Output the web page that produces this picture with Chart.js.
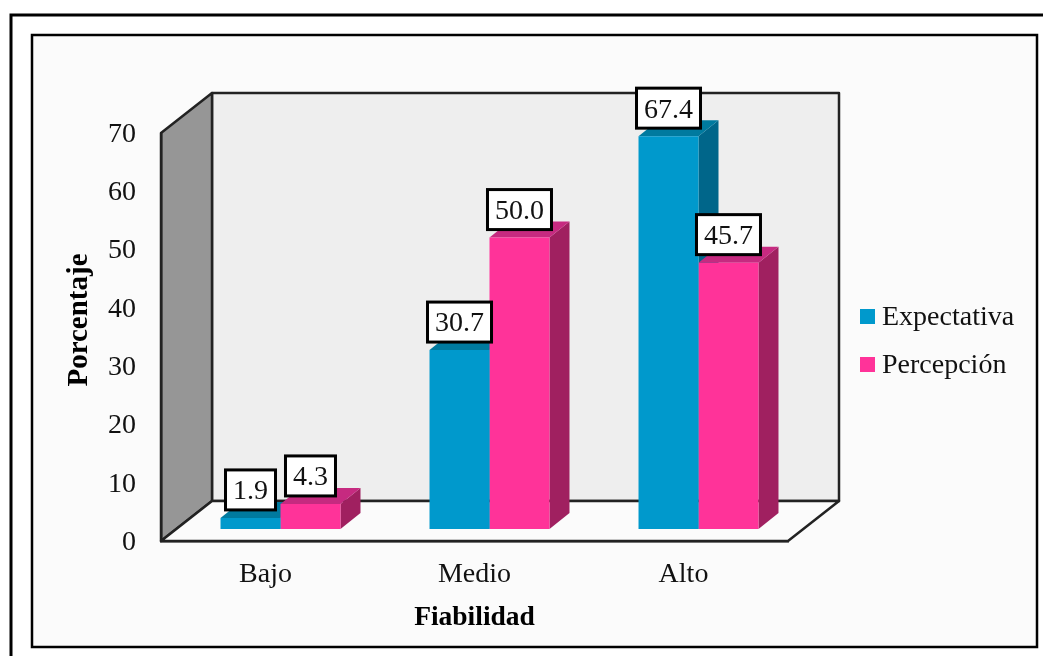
<!DOCTYPE html>
<html lang="es">
<head>
<meta charset="utf-8">
<title>Fiabilidad</title>
<style>
  html, body { margin: 0; padding: 0; background: #fff; }
  canvas { display: block; }
</style>
<script src="https://cdn.jsdelivr.net/npm/chart.js@4"></script>
</head>
<body>
<canvas id="grafico" width="1043" height="656"></canvas>
<script>
const categorias   = ['Bajo', 'Medio', 'Alto'];
const expectativa  = [1.9, 30.7, 67.4];
const percepcion   = [4.3, 50.0, 45.7];
const tickEje      = [0, 10, 20, 30, 40, 50, 60, 70];

const FUENTE = '"Liberation Serif", "Times New Roman", serif';

// Caja 3D: fondo de la pared y desplazamiento de las barras dentro del suelo
const FONDO  = { x: 51, y: 40 };
const BARRA  = { x: 15, y: -12 };
const CUERPO = { x: 20, y: 16 };

const caras = [
  { frente: '#0099CC', tapa: '#007A9F', lado: '#00668A' },
  { frente: '#FF3399', tapa: '#C62A80', lado: '#A02060' }
];

function poligono(ctx, puntos, relleno, borde) {
  ctx.beginPath();
  puntos.forEach(([x, y], i) => i ? ctx.lineTo(x, y) : ctx.moveTo(x, y));
  ctx.closePath();
  if (relleno) { ctx.fillStyle = relleno; ctx.fill(); }
  if (borde) { ctx.strokeStyle = borde; ctx.lineWidth = 2.5; ctx.lineJoin = 'round'; ctx.stroke(); }
}

// ── Marcos y paredes ─────
const pluginCaja = {
  id: 'caja',
  beforeDraw(chart) {
    const { ctx, chartArea: a } = chart;
    ctx.save();

    ctx.fillStyle = '#fff';
    ctx.fillRect(0, 0, chart.width, chart.height);
    ctx.strokeStyle = '#000';
    ctx.lineWidth = 3;
    ctx.beginPath();
    ctx.moveTo(1043, 15);
    ctx.lineTo(11, 15);
    ctx.lineTo(11, 656);
    ctx.stroke();
    ctx.fillStyle = '#FBFBFB';
    ctx.fillRect(32, 35, 1005, 612);
    ctx.lineWidth = 2.5;
    ctx.strokeRect(32, 35, 1005, 612);

    const fx = a.left + FONDO.x, fy = a.top - FONDO.y;
    const gx = a.right + FONDO.x, gy = a.bottom - FONDO.y;
    poligono(ctx, [[fx, fy], [gx, fy], [gx, gy], [fx, gy]], '#EEEEEE', '#222');
    poligono(ctx, [[a.left, a.top], [fx, fy], [fx, gy], [a.left, a.bottom]], '#969696', '#222');
    poligono(ctx, [[a.left, a.bottom], [fx, gy], [gx, gy], [a.right, a.bottom]], '#FBFBFB', '#222');
    ctx.restore();
  }
};

// ── Barras: tapa y lateral antes de las caras frontales de Chart.js ─────
const pluginBarras = {
  id: 'barras3d',
  beforeDatasetsDraw(chart) {
    const { ctx } = chart;
    ctx.save();
    ctx.translate(BARRA.x, BARRA.y);
    chart.data.datasets.forEach((ds, i) => {
      const c = caras[i];
      chart.getDatasetMeta(i).data.forEach(b => {
        const l = b.x - b.width / 2, r = b.x + b.width / 2;
        poligono(ctx, [[r, b.y], [r + CUERPO.x, b.y - CUERPO.y], [r + CUERPO.x, b.base - CUERPO.y], [r, b.base]], c.lado);
        poligono(ctx, [[l, b.y], [l + CUERPO.x, b.y - CUERPO.y], [r + CUERPO.x, b.y - CUERPO.y], [r, b.y]], c.tapa);
      });
    });
    ctx.restore();
  },
  beforeDatasetDraw(chart) {
    chart.ctx.save();
    chart.ctx.translate(BARRA.x, BARRA.y);
  },
  afterDatasetDraw(chart) {
    chart.ctx.restore();
  }
};

// ── Etiquetas, leyenda y título vertical ─────
const pluginTextos = {
  id: 'textos',
  afterDraw(chart) {
    const { ctx } = chart;
    ctx.save();
    ctx.textAlign = 'center';
    ctx.textBaseline = 'middle';
    ctx.font = `28px ${FUENTE}`;

    chart.data.datasets.forEach((ds, i) => {
      chart.getDatasetMeta(i).data.forEach((b, j) => {
        const texto = ds.data[j].toFixed(1);
        const ancho = ctx.measureText(texto).width + 15;
        const cx = b.x + BARRA.x, abajo = b.y + BARRA.y - 8;
        ctx.fillStyle = '#fff';
        ctx.strokeStyle = '#000';
        ctx.lineWidth = 3;
        ctx.fillRect(cx - ancho / 2, abajo - 40, ancho, 40);
        ctx.strokeRect(cx - ancho / 2, abajo - 40, ancho, 40);
        ctx.fillStyle = '#111';
        ctx.fillText(texto, cx, abajo - 18);
      });
    });

    ctx.textAlign = 'left';
    chart.data.datasets.forEach((ds, i) => {
      const y = 316 + i * 48;
      ctx.fillStyle = ds.backgroundColor;
      ctx.fillRect(860, y - 7, 15, 15);
      ctx.fillStyle = '#111';
      ctx.fillText(ds.label, 882, y + 2);
    });

    ctx.translate(80, 320);
    ctx.rotate(-Math.PI / 2);
    ctx.textAlign = 'center';
    ctx.font = `bold 29px ${FUENTE}`;
    ctx.fillStyle = '#000';
    ctx.fillText('Porcentaje', 0, 0);
    ctx.restore();
  }
};

new Chart(document.getElementById('grafico'), {
  type: 'bar',
  data: {
    labels: categorias,
    datasets: [
      { label: 'Expectativa', data: expectativa, backgroundColor: caras[0].frente },
      { label: 'Percepción',  data: percepcion,  backgroundColor: caras[1].frente }
    ]
  },
  options: {
    responsive: false,
    animation: false,
    clip: false,
    categoryPercentage: 0.574,
    barPercentage: 1,
    layout: { padding: { top: 133, right: 255, left: 0, bottom: 0 } },
    plugins: {
      legend: { display: false },
      tooltip: { enabled: false }
    },
    scales: {
      x: {
        afterFit: s => { s.height = 115; },
        grid: { display: false, drawTicks: false },
        border: { display: true, color: '#222', width: 2.5 },
        ticks: { color: '#111', padding: 17, font: { family: FUENTE, size: 28 } },
        title: {
          display: true,
          text: 'Fiabilidad',
          color: '#000',
          font: { family: FUENTE, size: 27.5, weight: 'bold' },
          padding: { top: 22, bottom: 22 }
        }
      },
      y: {
        min: 0,
        max: 70,
        afterFit: s => { s.width = 161; },
        afterBuildTicks: s => { s.ticks = tickEje.map(value => ({ value })); },
        grid: { display: false, drawTicks: false },
        border: { display: true, color: '#222', width: 2.5 },
        ticks: { color: '#111', padding: 25, labelOffset: 1.5, font: { family: FUENTE, size: 28 } }
      }
    }
  },
  plugins: [pluginCaja, pluginBarras, pluginTextos]
});
</script>
</body>
</html>
